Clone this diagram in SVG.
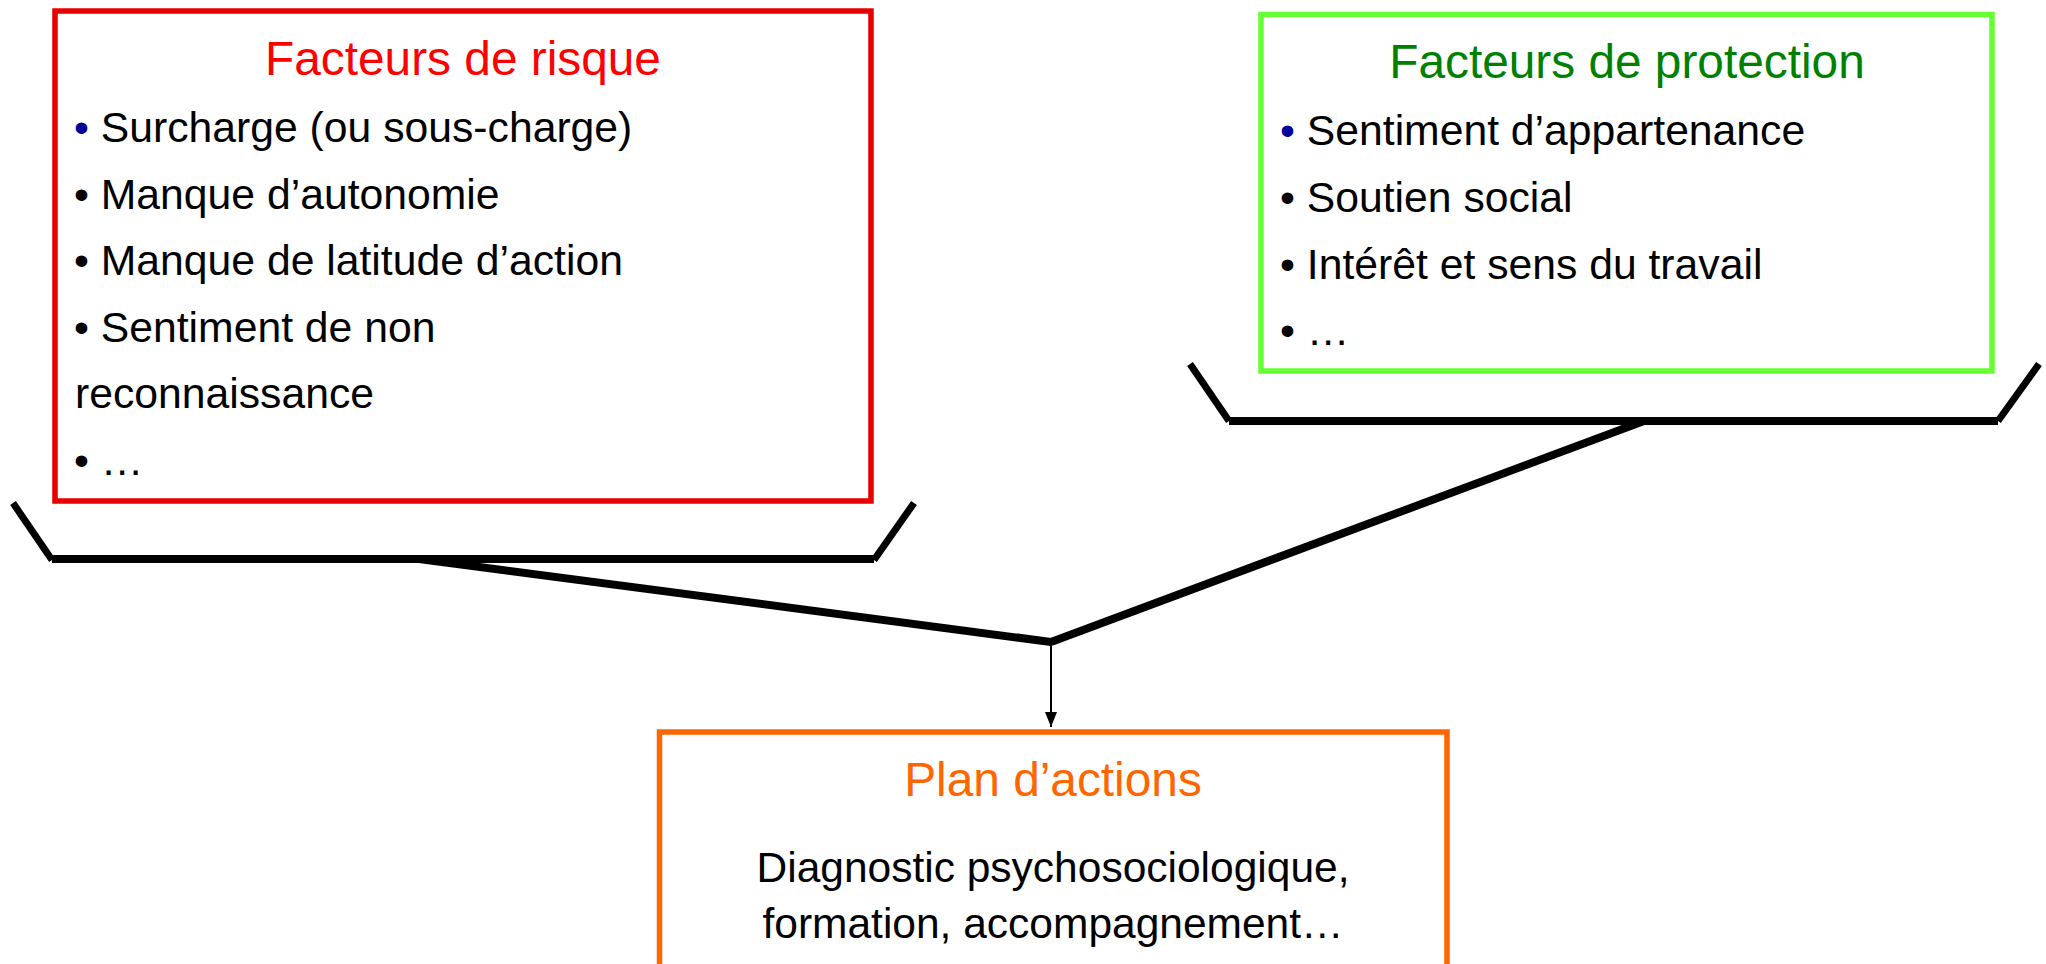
<svg xmlns="http://www.w3.org/2000/svg" width="2046" height="964" viewBox="0 0 2046 964">
<style>
text{font-family:"Liberation Sans",Arial,sans-serif;}
.title{font-size:47.8px;text-anchor:middle;}
.body{font-size:42.7px;fill:#000000;}
.ctr{font-size:42.5px;fill:#000000;text-anchor:middle;}
.box{fill:#FFFFFF;stroke-width:5.5;}
.bk{stroke:#000000;stroke-width:8;fill:none;}
.bs{stroke:#000000;stroke-width:7;fill:none;}
.blue{fill:#000099;}
</style>
<defs>
<marker id="arr" markerUnits="userSpaceOnUse" markerWidth="15" markerHeight="12" viewBox="0 0 15 12" refX="15" refY="6" orient="auto">
<path d="M0,0 L15,6 L0,12 z" fill="#000000"/>
</marker>
</defs>
<rect width="2046" height="964" fill="#FFFFFF"/>
<g id="connectors">
<line class="bs" x1="13" y1="503" x2="52" y2="560"/>
<line class="bk" x1="52" y1="559" x2="874" y2="559"/>
<line class="bs" x1="874" y1="560" x2="914" y2="503"/>
<line class="bs" x1="1190" y1="364" x2="1229" y2="421"/>
<line class="bk" x1="1229" y1="421" x2="1998" y2="421"/>
<line class="bs" x1="1998" y1="421" x2="2039" y2="364"/>
<line class="bk" x1="419" y1="559" x2="1051" y2="642"/>
<line class="bk" x1="1644" y1="421" x2="1051" y2="642"/>
<line x1="1051" y1="642" x2="1051" y2="727" stroke="#000000" stroke-width="2" marker-end="url(#arr)"/>
</g>
<g id="risque">
<rect class="box" x="55" y="11" width="816" height="490" stroke="#E60000"/>
<text class="title" x="463" y="75" fill="#FF0000">Facteurs de risque</text>
<text class="body" x="74" y="142"><tspan class="blue">•</tspan> Surcharge (ou sous-charge)</text>
<text class="body" x="74" y="208.5">• Manque d’autonomie</text>
<text class="body" x="74" y="275">• Manque de latitude d’action</text>
<text class="body" x="74" y="342">• Sentiment de non</text>
<text class="body" x="75" y="408">reconnaissance</text>
<text class="body" x="74" y="475">• …</text>
</g>
<g id="protection">
<rect class="box" x="1261" y="14.5" width="731" height="356.5" stroke="#66FF33"/>
<text class="title" x="1627" y="78" fill="#008000">Facteurs de protection</text>
<text class="body" x="1280" y="145"><tspan class="blue">•</tspan> Sentiment d’appartenance</text>
<text class="body" x="1280" y="212">• Soutien social</text>
<text class="body" x="1280" y="279">• Intérêt et sens du travail</text>
<text class="body" x="1280" y="345">• …</text>
</g>
<g id="plan">
<rect class="box" x="659.5" y="732" width="787.5" height="300" stroke="#FF6600"/>
<text class="title" x="1053" y="796" fill="#FF6600">Plan d’actions</text>
<text class="ctr" x="1053" y="882">Diagnostic psychosociologique,</text>
<text class="ctr" x="1053" y="938">formation, accompagnement…</text>
</g>
</svg>
